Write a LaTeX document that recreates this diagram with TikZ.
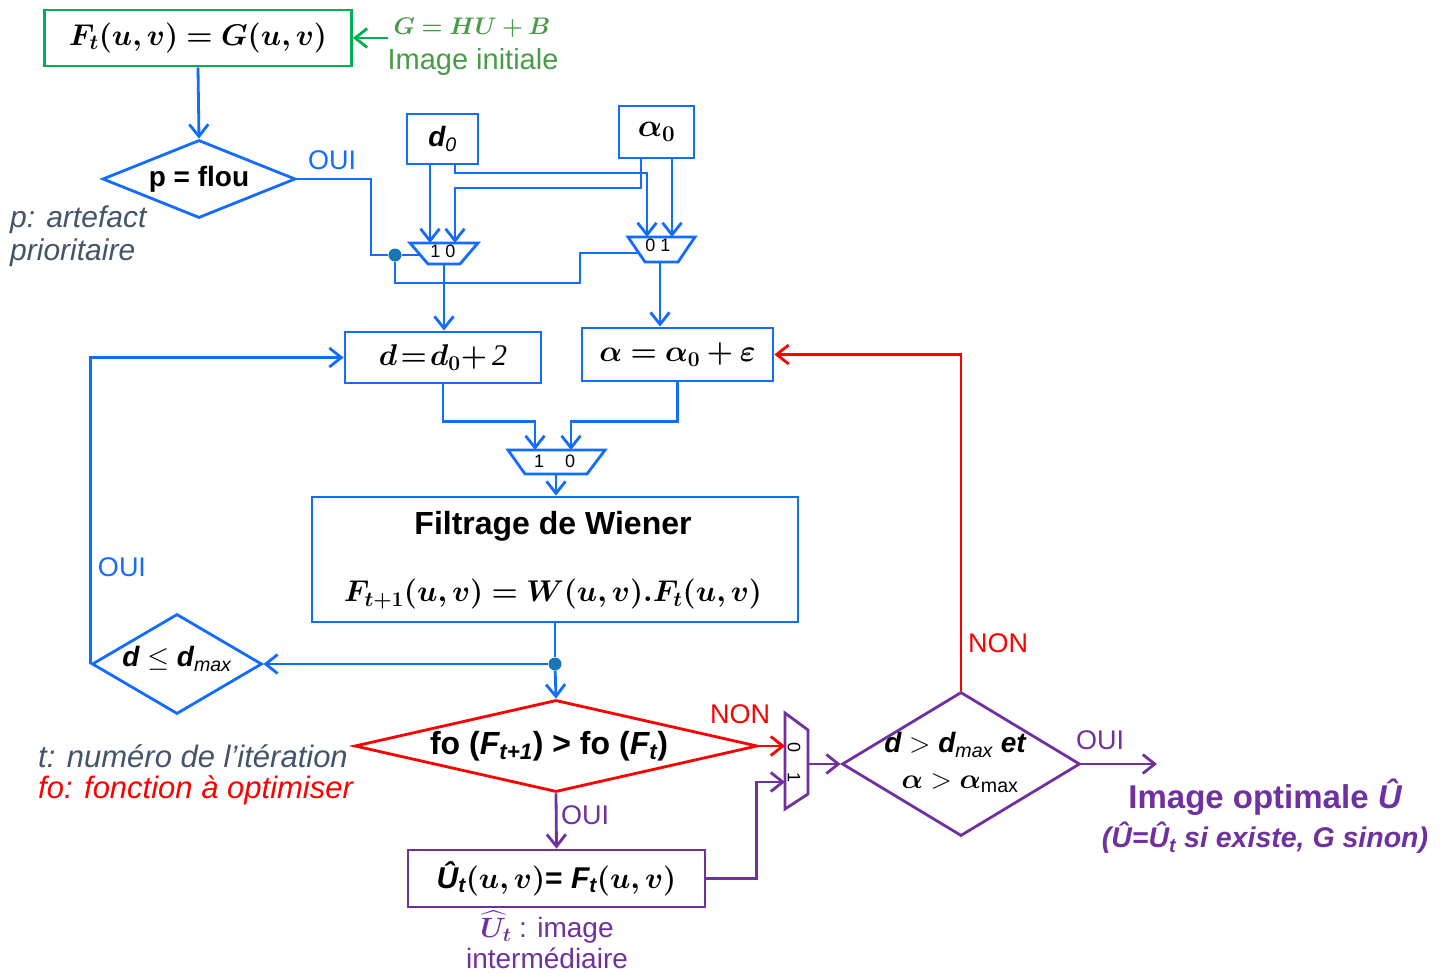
\RequirePackage{fix-cm}
\documentclass[tikz,border=0pt]{standalone}
\usepackage{amsmath}
\usepackage{bm}
\usepackage{fontspec}
\setmainfont{Liberation Sans}
\newfontfamily\serifnum{Liberation Serif}
\usetikzlibrary{arrows.meta,shapes.geometric}

\definecolor{cblue}{RGB}{17,108,255}
\definecolor{cdot}{RGB}{24,118,180}
\definecolor{cgreen}{RGB}{0,176,80}
\definecolor{cgreenT}{RGB}{72,156,72}
\definecolor{cred}{RGB}{255,0,0}
\definecolor{cpurple}{RGB}{112,48,160}
\definecolor{cgrey}{RGB}{68,84,106}

\newcommand\fsz[1]{\fontsize{#1pt}{#1pt}\selectfont}

\tikzset{
  ln/.style={line width=2.8pt, line join=miter},
  arr/.style={ln, -{Straight Barb[length=12pt,width=19pt]}},
  boxed/.style={draw, ln, inner sep=0pt},
  dia/.style={diamond, draw, ln, inner sep=0pt},
  muxshape/.style={ln, line join=miter},
  jdot/.style={circle, fill=cdot, inner sep=0pt, minimum size=13pt},
  txt/.style={inner sep=0pt, font=\fsz{29}},
  muxlbl/.style={inner sep=0pt, font=\fsz{18}},
}

\begin{document}
\begin{tikzpicture}[x=1pt,y=-1pt]
\path[use as bounding box] (0,0) rectangle (1446,974);

% ---------- initial image ----------
\node[boxed, draw=cgreen, minimum width=307pt, minimum height=56pt] (init) at (198,38)
  {\fsz{30}$\bm{F_t(u,v) = G(u,v)}$};
\node[txt, text=cgreenT, font=\fsz{24}] (gform) at (472,28) {$\bm{G = HU + B}$};
\node[txt, text=cgreenT] (ginit) at (473,62) {Image initiale};
\coordinate (gsrc) at (388,38);
\draw[arr, draw=cgreen] (gsrc) -- (init.east);

% ---------- artefact test ----------
\node[dia, draw=cblue, minimum width=193pt, minimum height=78pt] (pflou) at (199,179) {};
\node[txt, font=\fsz{28}\bfseries] (pflouT) at (pflou.center) {p = flou};
\node[txt, text=cblue, font=\fsz{27}] (oui1) at (332,160) {OUI};
\node[txt, text=cgrey, font=\fsz{30}\itshape, anchor=west] (pnote1) at (10,220) {p: artefact};
\node[txt, text=cgrey, font=\fsz{30}\itshape, anchor=west] (pnote2) at (10,253) {prioritaire};
\draw[arr, draw=cblue] (init.south) -- (pflou.north);

% ---------- initial parameters ----------
\node[boxed, draw=cblue, minimum width=71pt, minimum height=50pt] (d0) at (442.5,139)
  {\fsz{28}\bfseries\itshape d\textsubscript{\mdseries 0}};
\node[boxed, draw=cblue, minimum width=75pt, minimum height=52pt] (a0) at (656.5,132)
  {\fsz{32}$\bm{\alpha_0}$};

% ---------- selector multiplexers ----------
\coordinate (m1a) at (430,243);
\coordinate (m1b) at (455,243);
\coordinate (m1sel) at (420,255);
\coordinate (m1out) at (444,264);
\draw[muxshape, draw=cblue] (410,243) -- (478,243) -- (460,264) -- (428,264) -- cycle;
\node[muxlbl] (m1lbl) at (443,251) {1 0};

\coordinate (m2a) at (647,237);
\coordinate (m2b) at (672,237);
\coordinate (m2sel) at (638,253);
\coordinate (m2out) at (660,262);
\draw[muxshape, draw=cblue] (628,237) -- (695,237) -- (678,262) -- (645,262) -- cycle;
\node[muxlbl] (m2lbl) at (658,245) {0 1};

\coordinate (d0r) at (455,164);
\coordinate (a0l) at (641,158);
\coordinate (a0r) at (672,158);
\draw[arr, draw=cblue] (m1a |- d0.south) -- (m1a);
\draw[arr, draw=cblue] (d0r) -- ++(0,9) -| (m2a);
\draw[arr, draw=cblue] (a0l) -- ++(0,30) -| (m1b);
\draw[arr, draw=cblue] (a0r) -- (m2b);

\node[jdot] (j1) at (395,255) {};
\draw[ln, draw=cblue] (pflou.east) -- ++(74,0) |- (j1);
\draw[ln, draw=cblue] (j1) -- (m1sel);
\draw[ln, draw=cblue] (j1) |- (580,283) |- (m2sel);

% ---------- parameter updates ----------
\node[boxed, draw=cblue, minimum width=196pt, minimum height=51pt] (dbox) at (443,357.5)
  {\fsz{30}$\bm{d\!=\!d_0 +}$\,{\serifnum\itshape 2}};
\node[boxed, draw=cblue, minimum width=191pt, minimum height=53pt] (abox) at (677.5,354.5)
  {\fsz{30}$\bm{\alpha = \alpha_0 + \varepsilon}$};
\draw[arr, draw=cblue] (m1out) -- (m1out |- dbox.north);
\draw[arr, draw=cblue] (m2out) -- (m2out |- abox.north);

% ---------- multiplexer before the filter ----------
\coordinate (m3a) at (535,450);
\coordinate (m3b) at (571,450);
\coordinate (m3out) at (556,474);
\draw[muxshape, draw=cblue] (508,450) -- (605,450) -- (587,474) -- (525,474) -- cycle;
\node[muxlbl] (m3l1) at (539,461) {1};
\node[muxlbl] (m3l0) at (570,461) {0};
\draw[arr, draw=cblue] (dbox.south) -- ++(0,37) -| (m3a);
\draw[arr, draw=cblue] (abox.south) -- ++(0,39) -| (m3b);

% ---------- Wiener filtering ----------
\node[boxed, draw=cblue, minimum width=486pt, minimum height=125pt] (wien) at (555,559.5) {};
\node[txt, font=\fsz{32}\bfseries] (wienT) at (553,526) {Filtrage de Wiener};
\node[txt, font=\fsz{30}] (wienF) at (553,594) {$\bm{F_{t+1}(u,v) = W(u,v).F_t(u,v)}$};
\draw[arr, draw=cblue] (m3out) -- (m3out |- wien.north);

% ---------- iteration test on d ----------
\node[dia, draw=cblue, minimum width=170pt, minimum height=100pt] (dle) at (177,664) {};
\node[txt, font=\fsz{28}] (dleT) at (177,659)
  {{\bfseries\itshape d} $\leq$ {\bfseries\itshape d}\textsubscript{\itshape max}};
\node[txt, text=cblue, font=\fsz{27}] (oui2) at (122,567) {OUI};
\draw[arr, draw=cblue] (dle.west) |- (dbox.west);

\node[jdot] (j2) at (555,664) {};
\draw[ln, draw=cblue] (wien.south) -- (j2);
\draw[arr, draw=cblue] (j2) -- (dle.east);

% ---------- objective test ----------
\node[dia, draw=cred, minimum width=403pt, minimum height=92pt] (fo) at (556,746) {};
\node[txt, font=\fsz{32}\bfseries] (foT) at (549,746)
  {fo ({\itshape F}\textsubscript{\itshape t+1}) > fo ({\itshape F}\textsubscript{\itshape t})};
\draw[arr, draw=cblue] (j2) -- (fo.north);
\node[txt, text=cgrey, font=\fsz{31}\itshape, anchor=west] (tnote) at (38,756) {t: numéro de l’itération};
\node[txt, text=cred, font=\fsz{31}\itshape, anchor=west] (fonote) at (38,790) {fo: fonction à optimiser};
\node[txt, text=cred, font=\fsz{27}] (non1) at (740,714) {NON};
\node[txt, text=cpurple, font=\fsz{27}] (oui3) at (585,815) {OUI};

% ---------- intermediate image ----------
\node[boxed, draw=cpurple, minimum width=297pt, minimum height=57pt] (ubox) at (556.5,878.5)
  {\fsz{30}{\bfseries\itshape Û\textsubscript{t}}$\bm{(u,v)}$\textbf{= }{\bfseries\itshape F}\textsubscript{\bfseries\itshape t}$\bm{(u,v)}$};
\node[txt, text=cpurple, font=\fsz{28}] (unote1) at (547,927) {$\bm{\widehat{U}_t}$ : image};
\node[txt, text=cpurple, font=\fsz{28}] (unote2) at (547,958) {intermédiaire};
\draw[arr, draw=cpurple] (fo.south) -- (ubox.north);

% ---------- output multiplexer ----------
\coordinate (m4a) at (785,746);
\coordinate (m4b) at (785,782);
\coordinate (m4out) at (808,764);
\draw[muxshape, draw=cpurple] (785,713) -- (808,730) -- (808,794) -- (785,809) -- cycle;
\node[muxlbl, rotate=-90] (m4l0) at (794,747) {0};
\node[muxlbl, rotate=-90] (m4l1) at (794,777) {1};
\draw[arr, draw=cred] (fo.east) -- (m4a);
\draw[arr, draw=cpurple] (ubox.east) -- ++(50,0) |- (m4b);

% ---------- stopping test ----------
\node[dia, draw=cpurple, minimum width=238pt, minimum height=144pt] (pd) at (961,764) {};
\node[txt, font=\fsz{28}] (pdT1) at (955,745)
  {{\bfseries\itshape d} $>$ {\bfseries\itshape d}\textsubscript{\itshape max} {\bfseries\itshape et}};
\node[txt, font=\fsz{28}] (pdT2) at (960,783) {$\bm{\alpha} > \bm{\alpha}_{\text{max}}$};
\draw[arr, draw=cpurple] (m4out) -- (pd.west);
\draw[arr, draw=cred] (pd.north) |- (abox.east);
\node[txt, text=cred, font=\fsz{27}] (non2) at (998,643) {NON};
\node[txt, text=cpurple, font=\fsz{27}] (oui4) at (1100,740) {OUI};
\coordinate (outend) at (1157,764);
\draw[arr, draw=cpurple] (pd.east) -- (outend);
\node[txt, text=cpurple, font=\fsz{33}\bfseries] (optT) at (1265,797) {Image optimale {\itshape Û}};
\node[txt, text=cpurple, font=\fsz{28.5}\bfseries\itshape] (optN) at (1265,838)
  {(Û=Û\textsubscript{t} si existe, G sinon)};
\end{tikzpicture}
\end{document}
